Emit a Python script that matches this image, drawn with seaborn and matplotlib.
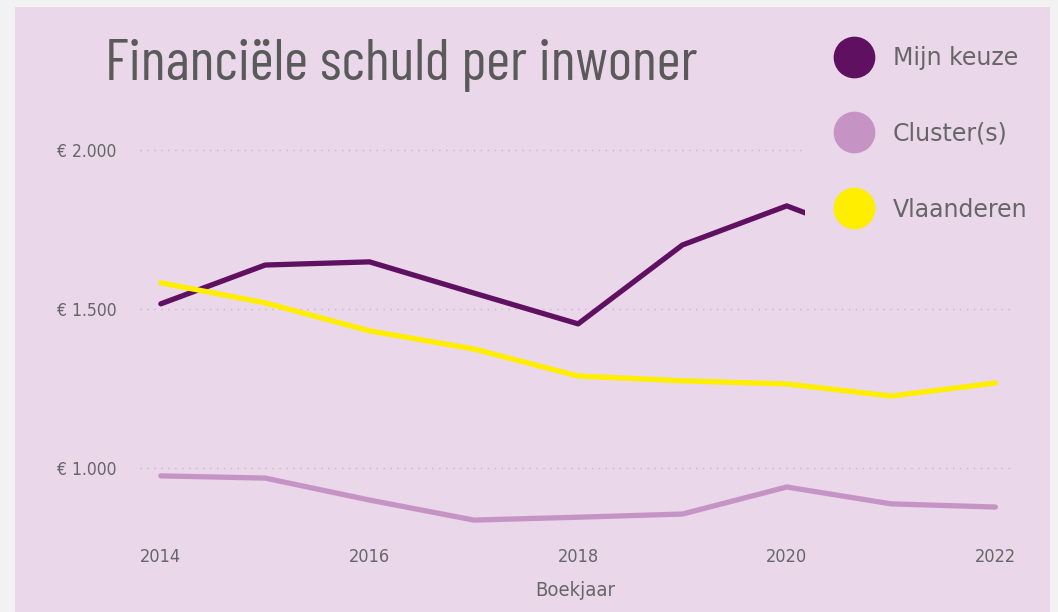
import pandas as pd
import seaborn as sns
import matplotlib.pyplot as plt
from matplotlib.patches import Rectangle
from matplotlib.lines import Line2D
from matplotlib.ticker import FuncFormatter
from matplotlib import font_manager

# data
years = [2014, 2015, 2016, 2017, 2018, 2019, 2020, 2021, 2022]
mijn_keuze = [1516, 1638, 1648, 1550, 1453, 1701, 1824, 1700, 1720]  # last two hidden behind legend
cluster = [975, 968, 899, 836, 845, 855, 940, 887, 877]
vlaanderen = [1582, 1519, 1431, 1374, 1289, 1274, 1264, 1226, 1267]
series_names = ["Mijn keuze", "Cluster(s)", "Vlaanderen"]
colors = ["#5F1060", "#C594C5", "#FFEE00"]

BG = "#EAD7EA"
TXT = "#666666"

names = {f.name for f in font_manager.fontManager.ttflist}
title_font = "Barlow Condensed" if "Barlow Condensed" in names else "DejaVu Sans"

df = pd.DataFrame({
    "Boekjaar": years * 3,
    "waarde": mijn_keuze + cluster + vlaanderen,
    "reeks": [s for s in series_names for _ in years],
})

sns.set_style("white")
plt.rcParams["font.family"] = ["DejaVu Sans"]

fig = plt.figure(figsize=(10.58, 6.12), dpi=100)
fig.patch.set_facecolor("#F2F2F2")
fig.add_artist(Rectangle((15 / 1058, 0), 1035 / 1058, 605 / 612, transform=fig.transFigure,
                         facecolor=BG, edgecolor="none", zorder=-1))

ax = fig.add_axes([0.1323, 0.1185, 0.8223, 0.6885])
ax.set_facecolor("none")
sns.lineplot(data=df, x="Boekjaar", y="waarde", hue="reeks", palette=colors,
             linewidth=3.8, ax=ax, legend=False)

ax.set_xlim(2013.8, 2022.14)
ax.set_ylim(775, 2100)
ax.set_xticks([2014, 2016, 2018, 2020, 2022])
ax.set_yticks([1000, 1500, 2000])
ax.yaxis.set_major_formatter(FuncFormatter(lambda v, p: "€ " + f"{v:,.0f}".replace(",", ".")))
ax.tick_params(axis="x", labelsize=13, colors=TXT, length=0, pad=6)
ax.tick_params(axis="y", labelsize=12.5, colors=TXT, length=0, pad=17)
for lab in ax.get_xticklabels() + ax.get_yticklabels():
    lab.set_fontstretch("condensed")
ax.grid(axis="y", color="#C5BAC5", linestyle=(0, (1, 4)), linewidth=1)
ax.set_axisbelow(True)
for s in ax.spines.values():
    s.set_visible(False)
ax.set_xlabel("Boekjaar", fontsize=14.5, color=TXT, labelpad=11, fontstretch="condensed")
ax.set_ylabel("")

# legend box covers the end of the purple line, like in the source
fig.add_artist(Rectangle((805 / 1058, 0.575), 245 / 1058, 0.41, transform=fig.transFigure,
                         facecolor=BG, edgecolor="none", zorder=4))
handles = [Line2D([], [], marker="o", linestyle="none", markersize=29, color=c) for c in colors]
fig.legend(handles, series_names, loc="upper left", bbox_to_anchor=(828 / 1058, 1 - 34 / 612),
           frameon=False, fontsize=17, labelcolor=TXT, labelspacing=2.2, handletextpad=1.05,
           borderpad=0, handlelength=1.2)

fig.text(105 / 1058, 1 - 80 / 612, "Financiële schuld per inwoner", fontsize=42,
         family=title_font, weight="normal", color="#5A5A5A", ha="left", va="baseline", zorder=6)

fig.savefig("out.png", dpi=100, facecolor=fig.get_facecolor())
